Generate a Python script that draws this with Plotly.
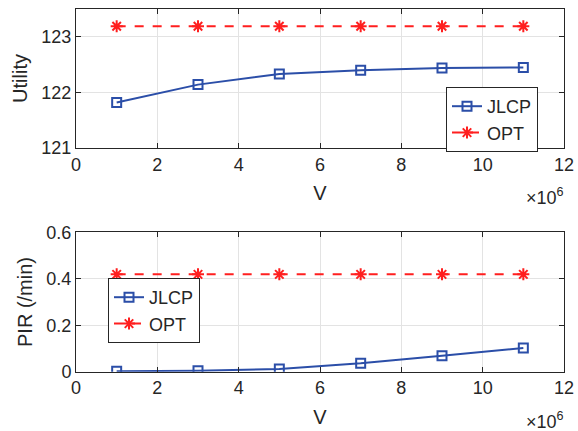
import plotly.graph_objects as go

# ---- data ----
V = [1, 3, 5, 7, 9, 11]  # in units of 1e6
utility_jlcp = [121.82, 122.14, 122.33, 122.40, 122.44, 122.45]
utility_opt = [123.19, 123.19, 123.19, 123.19, 123.19, 123.19]
pir_jlcp = [0.002, 0.004, 0.012, 0.036, 0.069, 0.102]
pir_opt = [0.419, 0.419, 0.419, 0.419, 0.419, 0.419]
x_ticks = [0, 2, 4, 6, 8, 10, 12]
util_ticks = [121, 122, 123]
pir_ticks = [0, 0.2, 0.4, 0.6]

W, H = 578, 431
FONT = "Liberation Sans, Arial, Helvetica, sans-serif"
BLUE = "#2b4ea8"
RED = "#ff1f1f"
AX = "#262626"
GRID = "#e3e3e3"
TF = 18
LF = 20


def px(x):
    return x / W


def py(y):
    return 1 - y / H


fig = go.Figure()

common = dict(mode="lines+markers")
fig.add_trace(go.Scatter(x=V, y=utility_jlcp, name="JLCP", xaxis="x", yaxis="y",
                         line=dict(color=BLUE, width=2),
                         marker=dict(symbol="square-open", size=9, color=BLUE, line=dict(width=2, color=BLUE)),
                         legend="legend", **common))
fig.add_trace(go.Scatter(x=V, y=utility_opt, name="OPT", xaxis="x", yaxis="y",
                         line=dict(color=RED, width=2, dash="dash"),
                         marker=dict(symbol="asterisk-open", size=10, color=RED, line=dict(width=2, color=RED)),
                         legend="legend", **common))
fig.add_trace(go.Scatter(x=V, y=pir_jlcp, name="JLCP", xaxis="x2", yaxis="y2",
                         line=dict(color=BLUE, width=2),
                         marker=dict(symbol="square-open", size=9, color=BLUE, line=dict(width=2, color=BLUE)),
                         legend="legend2", **common))
fig.add_trace(go.Scatter(x=V, y=pir_opt, name="OPT", xaxis="x2", yaxis="y2",
                         line=dict(color=RED, width=2, dash="dash"),
                         marker=dict(symbol="asterisk-open", size=10, color=RED, line=dict(width=2, color=RED)),
                         legend="legend2", **common))

axis_style = dict(showline=True, linecolor=AX, linewidth=1, mirror="ticks",
                  ticks="inside", ticklen=5, tickcolor=AX, showgrid=True,
                  gridcolor=GRID, gridwidth=1, zeroline=False, automargin=False,
                  tickfont=dict(family=FONT, size=TF, color=AX))

xdom = [px(76), px(564)]
fig.update_layout(
    width=W, height=H,
    margin=dict(l=0, r=0, t=0, b=0),
    paper_bgcolor="white", plot_bgcolor="white",
    font=dict(family=FONT, size=TF, color=AX),
    xaxis=dict(domain=xdom, anchor="y", range=[0, 12], tickvals=x_ticks,
               ticktext=[str(t) for t in x_ticks],
               title=dict(text="V", font=dict(size=LF), standoff=12), **axis_style),
    yaxis=dict(domain=[py(148), py(9)], anchor="x", range=[121, 123.5], tickvals=util_ticks,
               title=dict(text="Utility", font=dict(size=LF), standoff=8), **axis_style),
    xaxis2=dict(domain=xdom, anchor="y2", range=[0, 12], tickvals=x_ticks,
                ticktext=[str(t) for t in x_ticks],
                title=dict(text="V", font=dict(size=LF), standoff=12), **axis_style),
    yaxis2=dict(domain=[py(371.7), py(232.3)], anchor="x2", range=[0, 0.6], tickvals=pir_ticks,
                ticktext=["0", "0.2", "0.4", "0.6"],
                title=dict(text="PIR (/min)", font=dict(size=LF), standoff=8), **axis_style),
    legend=dict(x=px(446), y=py(87), xanchor="left", yanchor="top",
                bgcolor="white", bordercolor=AX, borderwidth=1,
                font=dict(family=FONT, size=TF, color=AX), tracegroupgap=0),
    legend2=dict(x=px(108), y=py(278), xanchor="left", yanchor="top",
                 bgcolor="white", bordercolor=AX, borderwidth=1,
                 font=dict(family=FONT, size=TF, color=AX), tracegroupgap=0),
    showlegend=True,
)

for ybot in (148, 371.7):
    fig.add_annotation(xref="paper", yref="paper", x=px(566), y=py(ybot + 35),
                       xanchor="right", yanchor="top", showarrow=False,
                       text="×10<sup>6</sup>", font=dict(family=FONT, size=TF, color=AX))

fig.write_html("out.html", config={"displayModeBar": False},
               post_script="document.body.style.margin='0';document.body.style.overflow='hidden';")
